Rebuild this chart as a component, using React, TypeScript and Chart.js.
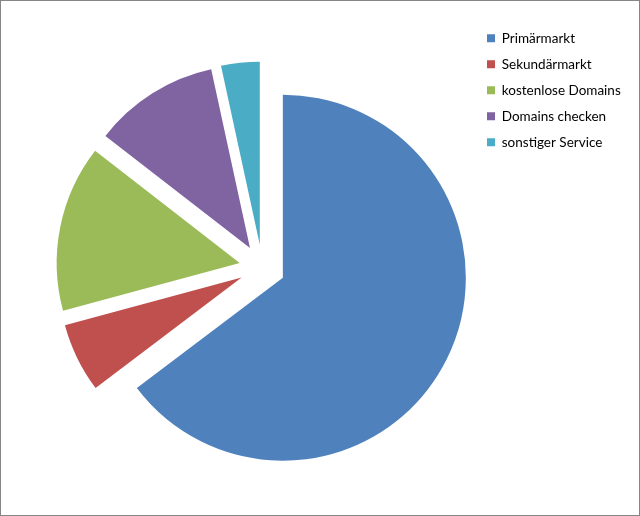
import React, { useEffect, useRef } from "react";
import { Chart, registerables } from "chart.js";

Chart.register(...registerables);

const categories = ["Primärmarkt", "Sekundärmarkt", "kostenlose Domains", "Domains checken", "sonstiger Service"];
const values = [64.7, 6.1, 14.7, 11.1, 3.4];
const colors = ["#4F81BD", "#C0504D", "#9BBB59", "#8064A2", "#4BACC6"];

const FONT_SIZE = 13.5;
const FONT_FAMILY = "Lato";
const LEGEND_PAD = 12.5;
const BOX = 8;
const EXPLODE = 23;

const borderPlugin = {
  id: "frameBorder",
  afterDraw(chart: any) {
    const ctx = chart.ctx;
    ctx.save();
    ctx.strokeStyle = "#868686";
    ctx.lineWidth = 1;
    ctx.strokeRect(0.5, 0.5, chart.width - 1, chart.height - 1);
    ctx.restore();
  },
};

// Moves every slice outward along its bisector (Excel-style "explode"),
// a pure translation without changing radius or angles.
const explodePlugin = {
  id: "explodeSlices",
  afterDatasetUpdate(chart: any, args: any) {
    const meta = args.meta;
    meta.data.forEach((el: any) => {
      const half = (el.startAngle + el.endAngle) / 2;
      el.x += Math.cos(half) * EXPLODE;
      el.y += Math.sin(half) * EXPLODE;
    });
  },
};

export default function App() {
  const ref = useRef<HTMLCanvasElement | null>(null);
  useEffect(() => {
    if (!ref.current) return;
    const mctx = document.createElement("canvas").getContext("2d")!;
    mctx.font = `${FONT_SIZE}px ${FONT_FAMILY}`;
    const textW = Math.max(...categories.map((c) => mctx.measureText(c).width));
    const legendW = LEGEND_PAD + BOX + FONT_SIZE / 2 + textW + 10;
    const legendLeft = 474.5;
    const rightPad = Math.max(0, 640 - legendLeft - legendW);

    const chart = new Chart(ref.current, {
      type: "pie",
      data: {
        labels: categories,
        datasets: [
          {
            data: values,
            backgroundColor: colors,
            borderWidth: 0,
            offset: 0,
            radius: 183,
          } as any,
        ],
      },
      options: {
        animation: false,
        responsive: false,
        maintainAspectRatio: false,
        events: [],
        layout: { padding: { left: 50, right: rightPad, top: 19, bottom: 0 } },
        plugins: {
          tooltip: { enabled: false },
          legend: {
            position: "right",
            align: "start",
            labels: {
              boxWidth: BOX,
              boxHeight: BOX,
              padding: LEGEND_PAD,
              color: "#000000",
              font: { family: FONT_FAMILY, size: FONT_SIZE },
            },
          },
        },
      },
      plugins: [explodePlugin, borderPlugin],
    });
    return () => chart.destroy();
  }, []);
  return (
    <div style={{ position: "fixed", left: 0, top: 0, width: 640, height: 516, background: "#fff" }}>
      <canvas ref={ref} width={640} height={516} style={{ display: "block", width: 640, height: 516 }} />
    </div>
  );
}
